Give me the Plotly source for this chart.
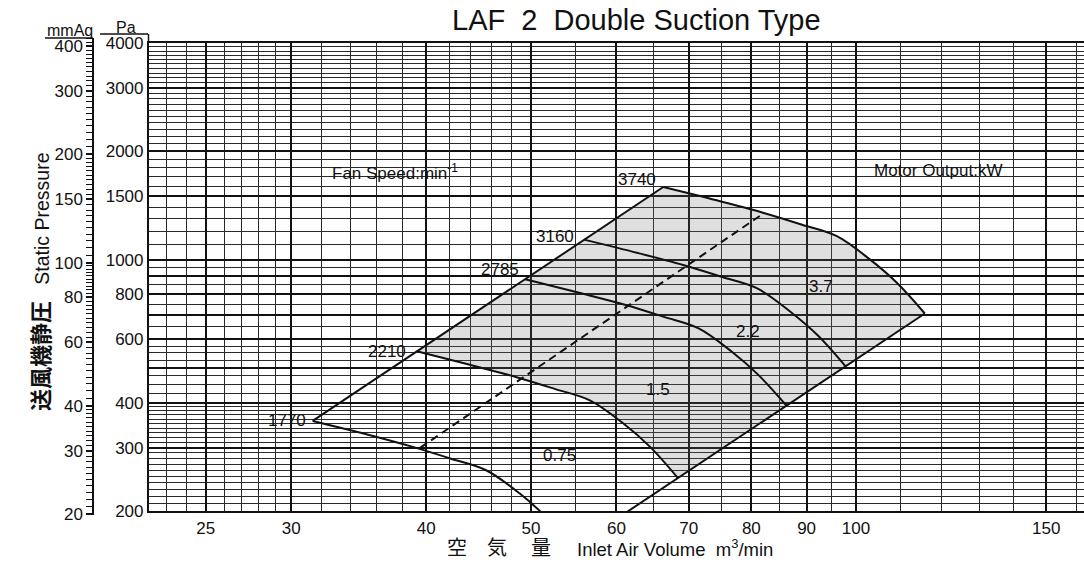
import math
import plotly.graph_objects as go

# ---------------- data ----------------
speed_labels = ["1770", "2210", "2785", "3160", "3740"]

q_1770 = [31.4, 35.2, 38.8, 42.1, 45.4, 48.8, 51.6, 54.8]
p_1770 = [356, 327, 302, 280, 260, 224, 193, 159]
q_2210 = [39.2, 43.9, 48.5, 52.6, 56.7, 60.9, 64.5, 68.4]
p_2210 = [556, 510, 471, 437, 406, 350, 301, 247]
q_2785 = [49.4, 55.3, 61.1, 66.3, 71.5, 76.7, 81.2, 86.2]
p_2785 = [882, 810, 749, 694, 644, 555, 478, 393]
q_3160 = [56.0, 62.8, 69.3, 75.2, 81.1, 87.0, 92.2, 97.8]
p_3160 = [1136, 1043, 964, 894, 830, 715, 615, 505]
q_3740 = [66.3, 74.3, 82.0, 89.0, 96.0, 103.0, 109.1, 115.8]
p_3740 = [1591, 1461, 1350, 1252, 1162, 1001, 862, 708]

# envelope boundaries and dashed line
q_left = [31.4, 66.3]
p_left = [356, 1591]
q_right = [60.0, 115.8]
p_right = [190, 708]
q_dash = [39.5, 82.2]
p_dash = [300, 1347]

motor_labels = ["0.75", "1.5", "2.2", "3.7"]
motor_q = [53.2, 65.6, 79.4, 92.9]
motor_p = [285, 435, 631, 843]

x_ticks = [25, 30, 40, 50, 60, 70, 80, 90, 100, 150]
x_minor = [23, 24, 26, 27, 28, 29, 32, 34, 36, 38, 42, 44, 46, 48,
           55, 65, 75, 85, 95, 110, 120, 130, 140, 160]
pa_ticks = [200, 300, 400, 500, 600, 700, 800, 900, 1000, 1500, 2000, 3000, 4000]
pa_text = ["200", "300", "400", "", "600", "", "800", "", "1000", "1500", "2000", "3000", "4000"]
pa_minor = (list(range(210, 400, 10)) + list(range(425, 600, 25)) +
            list(range(650, 1000, 50)) + list(range(1100, 4000, 100)))
pa_minor = [v for v in pa_minor if v not in pa_ticks]
mm_ticks = [20, 30, 40, 60, 80, 100, 150, 200, 300, 400]
mm_minor = (list(range(21, 40)) + list(range(42, 100, 2)) +
            list(range(105, 200, 5)) + list(range(210, 430, 10)))
mm_minor = [v for v in mm_minor if v not in mm_ticks]

curves_q = [q_1770, q_2210, q_2785, q_3160, q_3740]
curves_p = [p_1770, p_2210, p_2785, p_3160, p_3740]

# ---------------- layout geometry ----------------
W, H = 1084, 563
PX_L, PX_R = 149, 1084
PY_T, PY_B = 43, 511
XPD = 1080.0              # px per decade (x)
x_range = [2 + (PX_L - 856) / XPD, 2 + (PX_R - 856) / XPD]
y_range = [math.log10(200), math.log10(4000)]
YPD = (PY_B - PY_T) / (y_range[1] - y_range[0])
MM = 9.80665
ax2_top, ax2_bot = 38, 515
y2_range = [y_range[0] + (PY_B - ax2_bot) / YPD - math.log10(MM),
            y_range[0] + (PY_B - ax2_top) / YPD - math.log10(MM)]


def px(x):
    return x / W


def py(y):
    return 1 - y / H


FONT = "Liberation Sans, Arial, Helvetica, Noto Sans CJK JP, sans-serif"
INK = "#111111"
THIN = "#2a2a2a"

fig = go.Figure()

# shaded region (between 2210 curve and 3740 curve inside envelope)
fill_q = [q_2210[0]] + q_3740 + q_2210[::-1]
fill_p = [p_2210[0]] + p_3740 + p_2210[::-1]
fig.add_trace(go.Scatter(x=fill_q, y=fill_p, mode="lines", fill="toself",
                         fillcolor="rgba(110,110,110,0.22)",
                         line=dict(width=0), hoverinfo="skip", showlegend=False))

for q, p in zip(curves_q, curves_p):
    fig.add_trace(go.Scatter(x=q, y=p, mode="lines",
                             line=dict(color=INK, width=2, shape="spline", smoothing=1),
                             hoverinfo="skip", showlegend=False))

for q, p in [(q_left, p_left), (q_right, p_right)]:
    fig.add_trace(go.Scatter(x=q, y=p, mode="lines", line=dict(color=INK, width=2),
                             hoverinfo="skip", showlegend=False))

fig.add_trace(go.Scatter(x=q_dash, y=p_dash, mode="lines",
                         line=dict(color=INK, width=2, dash="8px,5px"),
                         hoverinfo="skip", showlegend=False))

# dummy trace to carry the mmAq axis
fig.add_trace(go.Scatter(x=[1], y=[100], xaxis="x2", yaxis="y2", mode="markers",
                         marker=dict(opacity=0), hoverinfo="skip", showlegend=False))

annotations = []
# speed labels
shifts = [(-5, 0), (-9, 0), (-4, 10), (-8, 3), (-5, 8)]
for lab, q, p, (dx, dy) in zip(speed_labels, curves_q, curves_p, shifts):
    annotations.append(dict(x=math.log10(q[0]), y=math.log10(p[0]), xref="x", yref="y",
                            text=lab, showarrow=False, xanchor="right", yanchor="middle",
                            xshift=dx, yshift=dy, font=dict(size=17, color=INK)))
for lab, q, p in zip(motor_labels, motor_q, motor_p):
    annotations.append(dict(x=math.log10(q), y=math.log10(p), xref="x", yref="y",
                            text=lab, showarrow=False, xanchor="center", yanchor="middle",
                            font=dict(size=17, color=INK)))


def note(x, y, text, size, xanchor="center", **kw):
    d = dict(x=px(x), y=py(y), xref="paper", yref="paper", text=text, showarrow=False,
             xanchor=xanchor, yanchor="middle", font=dict(size=size, color=INK))
    d.update(kw)
    return d


annotations += [
    note(636, 20, "LAF\u00a0\u00a02\u00a0\u00a0Double Suction Type", 29),
    note(330, 172, "Fan Speed:min<sup>-1</sup>", 17, "left"),
    note(872, 171, "Motor Output:kW", 17, "left"),
    note(70, 30, "mmAq", 16),
    note(126, 27, "Pa", 16),
    note(457, 548, "空", 20),
    note(497, 548, "気", 20),
    note(541, 548, "量", 20),
    note(575, 548, "Inlet Air Volume\u00a0\u00a0m<sup>3</sup>/min", 18.5, "left"),
    note(41, 282,
         "<b><span style='font-size:22px'>送風機静圧</span></b>\u00a0\u00a0\u00a0Static Pressure",
         19.5, textangle=-90),
]

shapes = [
    dict(type="line", xref="paper", yref="paper", x0=px(45), x1=px(93), y0=py(38), y1=py(38),
         line=dict(color=INK, width=1.5)),
    dict(type="line", xref="paper", yref="paper", x0=px(100), x1=px(148), y0=py(34), y1=py(34),
         line=dict(color=INK, width=1.5)),
    dict(type="line", xref="paper", yref="paper", x0=px(148.5), x1=px(148.5), y0=py(34), y1=py(43),
         line=dict(color=INK, width=1.5)),
]

fig.update_layout(
    width=W, height=H, template="none",
    margin=dict(l=0, r=0, t=0, b=0, pad=0),
    paper_bgcolor="white", plot_bgcolor="rgba(0,0,0,0)",
    font=dict(family=FONT, size=17, color=INK),
    showlegend=False,
    annotations=annotations, shapes=shapes,
    xaxis=dict(type="log", range=x_range, domain=[px(PX_L), 1.0], anchor="y",
               tickmode="array", tickvals=x_ticks, ticktext=[str(v) for v in x_ticks],
               ticks="", showgrid=True, gridcolor=INK, gridwidth=2.2,
               minor=dict(tickmode="array", tickvals=x_minor, showgrid=True,
                          gridcolor=THIN, gridwidth=1.1, ticks=""),
               showline=True, linecolor=INK, linewidth=2.2, mirror=True, zeroline=False,
               tickfont=dict(size=17, color=INK), automargin=False),
    yaxis=dict(type="log", range=y_range, domain=[py(PY_B), py(PY_T)], anchor="x",
               tickmode="array", tickvals=pa_ticks, ticktext=pa_text,
               ticks="", showgrid=True, gridcolor=INK, gridwidth=2.2,
               minor=dict(tickmode="array", tickvals=pa_minor, showgrid=True,
                          gridcolor=THIN, gridwidth=1.1, ticks=""),
               showline=True, linecolor=INK, linewidth=2.2, mirror=True, zeroline=False,
               tickfont=dict(size=17, color=INK), automargin=False),
    xaxis2=dict(domain=[0, 0.02], anchor="y2", visible=False),
    yaxis2=dict(type="log", range=y2_range, domain=[py(ax2_bot), py(ax2_top)],
                anchor="free", position=px(93), side="left",
                tickmode="array", tickvals=mm_ticks, ticktext=[str(v) for v in mm_ticks],
                ticks="outside", ticklen=6, tickwidth=1.5, tickcolor=INK,
                minor=dict(tickmode="array", tickvals=mm_minor, ticks="outside",
                           ticklen=6, tickwidth=1, tickcolor=INK, showgrid=False),
                showgrid=False, showline=True, linecolor=INK, linewidth=1.5,
                zeroline=False, tickfont=dict(size=17, color=INK), automargin=False),
)

fig.write_html("out.html", config={"displayModeBar": False},
               post_script="document.body.style.margin='0';")
